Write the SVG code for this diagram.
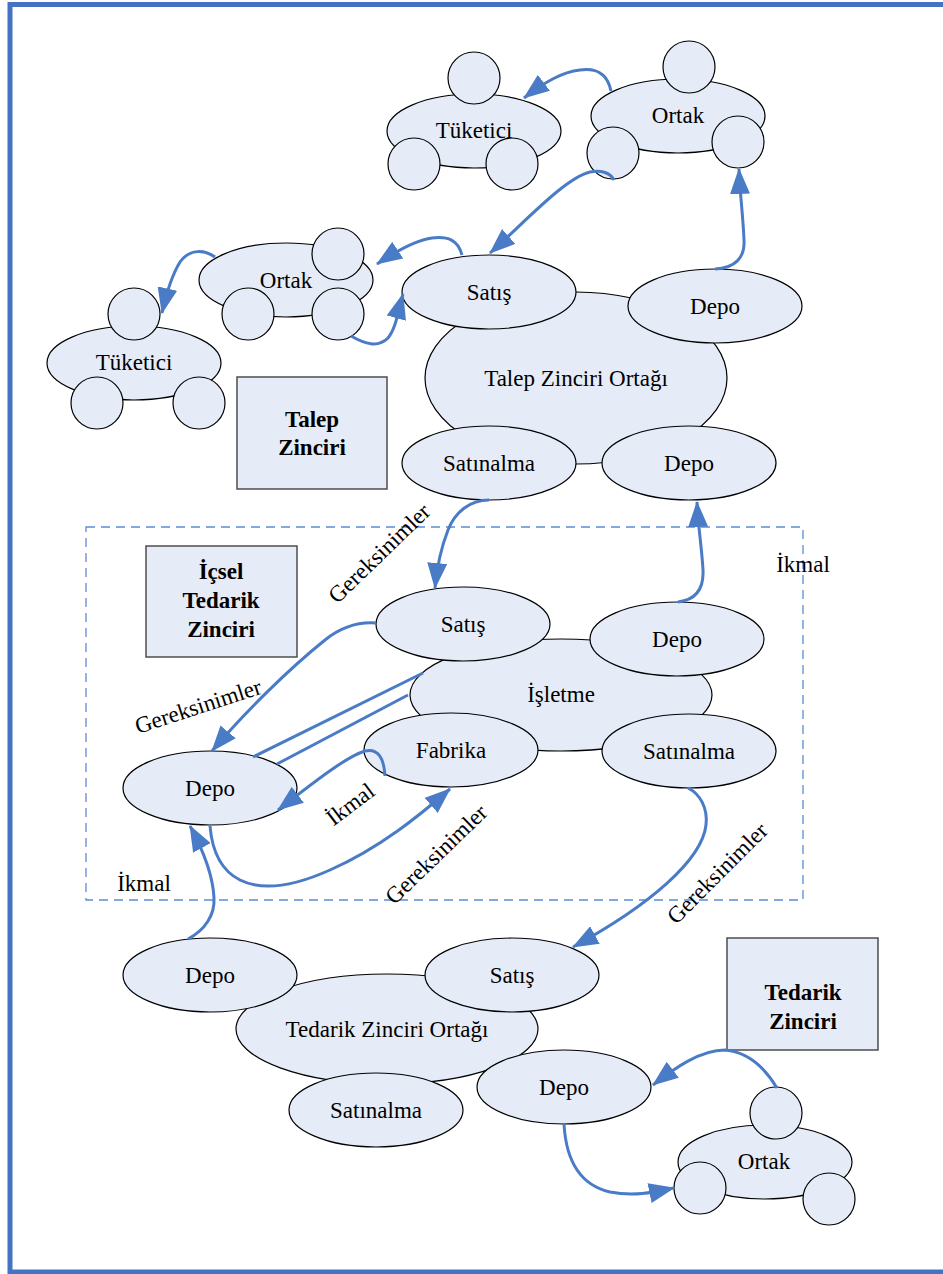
<svg xmlns="http://www.w3.org/2000/svg" width="943" height="1274" viewBox="0 0 943 1274">
  <style>
    .shape { fill: #E6ECF7; stroke: #000; stroke-width: 1.2; }
    .box { fill: #E6ECF7; stroke: #4D4D4D; stroke-width: 1.5; }
    .lbl { font-family: "Liberation Serif", "Times New Roman", serif; font-size: 23px; fill: #000; text-anchor: middle; }
    .bold { font-weight: bold; }
    .conn { fill: none; stroke: #4A7BC6; stroke-width: 3; }
    .arrow { marker-end: url(#head); }
  </style>
  <defs>
    <marker id="head" viewBox="0 0 26 20" refX="25" refY="10" markerWidth="26" markerHeight="20" markerUnits="userSpaceOnUse" orient="auto">
      <path d="M0,0 L26,10 L0,20 z" fill="#4A7BC6"/>
    </marker>
  </defs>

  <rect x="0" y="0" width="943" height="1274" fill="#fff"/>
  <!-- page frame -->
  <rect x="10" y="4.5" width="945" height="1267.5" fill="none" stroke="#4472C4" stroke-width="5"/>

  <!-- internal supply chain boundary -->
  <rect id="icsel-boundary" x="86" y="527" width="717" height="373" fill="none" stroke="#5B8BD6" stroke-width="1.3" stroke-dasharray="9,6"/>

  <!-- top consumer -->
  <g id="tuketici-top">
    <ellipse class="shape" cx="474" cy="131" rx="87" ry="37"/>
    <circle class="shape" cx="474" cy="78" r="26"/>
    <circle class="shape" cx="414" cy="164" r="26"/>
    <circle class="shape" cx="512" cy="164" r="26"/>
    <text class="lbl" x="474" y="138">Tüketici</text>
  </g>

  <!-- top partner -->
  <g id="ortak-top">
    <ellipse class="shape" cx="678" cy="116" rx="87" ry="37"/>
    <circle class="shape" cx="689" cy="67" r="26"/>
    <circle class="shape" cx="613" cy="153" r="26"/>
    <circle class="shape" cx="738" cy="142" r="26"/>
    <text class="lbl" x="678" y="123">Ortak</text>
  </g>

  <!-- left partner -->
  <g id="ortak-left">
    <ellipse class="shape" cx="286" cy="280" rx="87" ry="37"/>
    <circle class="shape" cx="338" cy="254" r="26"/>
    <circle class="shape" cx="248" cy="314" r="26"/>
    <circle class="shape" cx="338" cy="314" r="26"/>
    <text class="lbl" x="286" y="288">Ortak</text>
  </g>

  <!-- left consumer -->
  <g id="tuketici-left">
    <ellipse class="shape" cx="134" cy="363" rx="87" ry="37"/>
    <circle class="shape" cx="134" cy="314" r="26"/>
    <circle class="shape" cx="97" cy="403" r="26"/>
    <circle class="shape" cx="199" cy="403" r="26"/>
    <text class="lbl" x="134" y="370">Tüketici</text>
  </g>

  <!-- demand chain title -->
  <g id="talep-zinciri">
    <rect class="box" x="237" y="377" width="150" height="112"/>
    <text class="lbl bold" x="312" y="427">Talep</text>
    <text class="lbl bold" x="312" y="455">Zinciri</text>
  </g>

  <!-- demand chain partner -->
  <g id="talep-ortagi">
    <ellipse class="shape" cx="576" cy="378" rx="151" ry="86"/>
    <text class="lbl" x="576" y="386">Talep Zinciri Ortağı</text>
  </g>
  <g id="talep-satis">
    <ellipse class="shape" cx="489" cy="292" rx="87" ry="37"/>
    <text class="lbl" x="489" y="300">Satış</text>
  </g>
  <g id="talep-depo-ust">
    <ellipse class="shape" cx="715" cy="306" rx="87" ry="37"/>
    <text class="lbl" x="715" y="314">Depo</text>
  </g>
  <g id="talep-satinalma">
    <ellipse class="shape" cx="489" cy="463" rx="87" ry="37"/>
    <text class="lbl" x="489" y="471">Satınalma</text>
  </g>
  <g id="talep-depo-alt">
    <ellipse class="shape" cx="689" cy="463" rx="87" ry="37"/>
    <text class="lbl" x="689" y="471">Depo</text>
  </g>

  <!-- internal supply chain title -->
  <g id="icsel-tedarik-zinciri">
    <rect class="box" x="146" y="546" width="151" height="111"/>
    <text class="lbl bold" x="221" y="579">İçsel</text>
    <text class="lbl bold" x="221" y="608">Tedarik</text>
    <text class="lbl bold" x="221" y="637">Zinciri</text>
  </g>

  <!-- enterprise -->
  <g id="isletme">
    <ellipse class="shape" cx="561" cy="695" rx="151" ry="56"/>
    <text class="lbl" x="561" y="702">İşletme</text>
  </g>
  <g id="isletme-satis">
    <ellipse class="shape" cx="463" cy="624" rx="87" ry="37"/>
    <text class="lbl" x="463" y="632">Satış</text>
  </g>
  <g id="isletme-depo">
    <ellipse class="shape" cx="677" cy="639" rx="87" ry="37"/>
    <text class="lbl" x="677" y="647">Depo</text>
  </g>
  <g id="isletme-fabrika">
    <ellipse class="shape" cx="451" cy="750" rx="87" ry="37"/>
    <text class="lbl" x="451" y="758">Fabrika</text>
  </g>
  <g id="isletme-satinalma">
    <ellipse class="shape" cx="689" cy="751" rx="87" ry="37"/>
    <text class="lbl" x="689" y="759">Satınalma</text>
  </g>
  <g id="isletme-depo-sol">
    <ellipse class="shape" cx="210" cy="788" rx="87" ry="37"/>
    <text class="lbl" x="210" y="796">Depo</text>
  </g>

  <!-- supply chain partner -->
  <g id="tedarik-ortagi">
    <ellipse class="shape" cx="387" cy="1029" rx="151" ry="55"/>
    <text class="lbl" x="387" y="1037">Tedarik Zinciri Ortağı</text>
  </g>
  <g id="tedarik-depo-sol">
    <ellipse class="shape" cx="210" cy="975" rx="87" ry="37"/>
    <text class="lbl" x="210" y="983">Depo</text>
  </g>
  <g id="tedarik-satis">
    <ellipse class="shape" cx="512" cy="975" rx="87" ry="37"/>
    <text class="lbl" x="512" y="983">Satış</text>
  </g>
  <g id="tedarik-satinalma">
    <ellipse class="shape" cx="376" cy="1110" rx="87" ry="37"/>
    <text class="lbl" x="376" y="1118">Satınalma</text>
  </g>
  <g id="tedarik-depo-sag">
    <ellipse class="shape" cx="564" cy="1087" rx="87" ry="37"/>
    <text class="lbl" x="564" y="1095">Depo</text>
  </g>

  <!-- supply chain title -->
  <g id="tedarik-zinciri">
    <rect class="box" x="727" y="938" width="151" height="112"/>
    <text class="lbl bold" x="803" y="1000">Tedarik</text>
    <text class="lbl bold" x="803" y="1029">Zinciri</text>
  </g>

  <!-- bottom partner -->
  <g id="ortak-bottom">
    <ellipse class="shape" cx="765" cy="1162" rx="87" ry="37"/>
    <circle class="shape" cx="776" cy="1113" r="26"/>
    <circle class="shape" cx="700" cy="1188" r="26"/>
    <circle class="shape" cx="829" cy="1199" r="26"/>
    <text class="lbl" x="764" y="1169">Ortak</text>
  </g>

  <!-- connectors -->
  <g id="connectors">
    <path class="conn arrow" d="M611,91 C607,72 595,68 580,70 C562,72 545,82 524,98"/>
    <path class="conn arrow" d="M614,180 C610,172 600,170 590,172 C565,178 525,222 490,253"/>
    <path class="conn arrow" d="M715,269 C735,268 745,258 744,240 C743,215 740,195 739,169"/>
    <path class="conn arrow" d="M462,255 C458,240 448,236 432,238 C415,240 395,252 377,264"/>
    <path class="conn arrow" d="M351,336 C365,344 378,348 388,338 C396,328 398,312 403,294"/>
    <path class="conn arrow" d="M215,257 C205,250 190,248 180,262 C172,275 166,295 162,313"/>
    <path class="conn arrow" d="M489,500 C470,500 455,512 448,530 C441,548 437,566 435,588"/>
    <path class="conn arrow" d="M678,602 C695,600 704,590 703,570 C702,550 698,525 697,502"/>
    <path class="conn arrow" d="M376,623 C362,622 345,624 325,640 C290,668 245,712 212,751"/>
    <path class="conn" d="M423,673 L253,757"/>
    <path class="conn" d="M408,695 L277,764"/>
    <path class="conn arrow" d="M385,776 C384,758 378,748 365,751 C345,757 308,787 278,810"/>
    <path class="conn arrow" d="M210,826 C212,850 220,870 240,880 C260,890 290,888 330,870 C380,848 420,815 450,789"/>
    <path class="conn arrow" d="M188,939 C205,930 215,915 214,898 C213,875 203,850 190,826"/>
    <path class="conn arrow" d="M688,788 C700,794 708,808 706,825 C702,860 650,905 573,947"/>
    <path class="conn arrow" d="M777,1088 C765,1068 748,1052 725,1050 C700,1050 675,1068 653,1085"/>
    <path class="conn arrow" d="M564,1124 C566,1160 580,1185 610,1192 C635,1197 655,1192 674,1188"/>
  </g>

  <!-- connector labels -->
  <g id="connector-labels">
    <text class="lbl" transform="translate(379,553) rotate(-44)" y="8">Gereksinimler</text>
    <text class="lbl" transform="translate(198,706) rotate(-18)" y="8">Gereksinimler</text>
    <text class="lbl" transform="translate(350,804) rotate(-37)" y="8">İkmal</text>
    <text class="lbl" transform="translate(436,854) rotate(-44)" y="8">Gereksinimler</text>
    <text class="lbl" transform="translate(717,873) rotate(-45)" y="8">Gereksinimler</text>
    <text class="lbl" x="144" y="891">İkmal</text>
    <text class="lbl" x="803" y="572">İkmal</text>
  </g>
</svg>
